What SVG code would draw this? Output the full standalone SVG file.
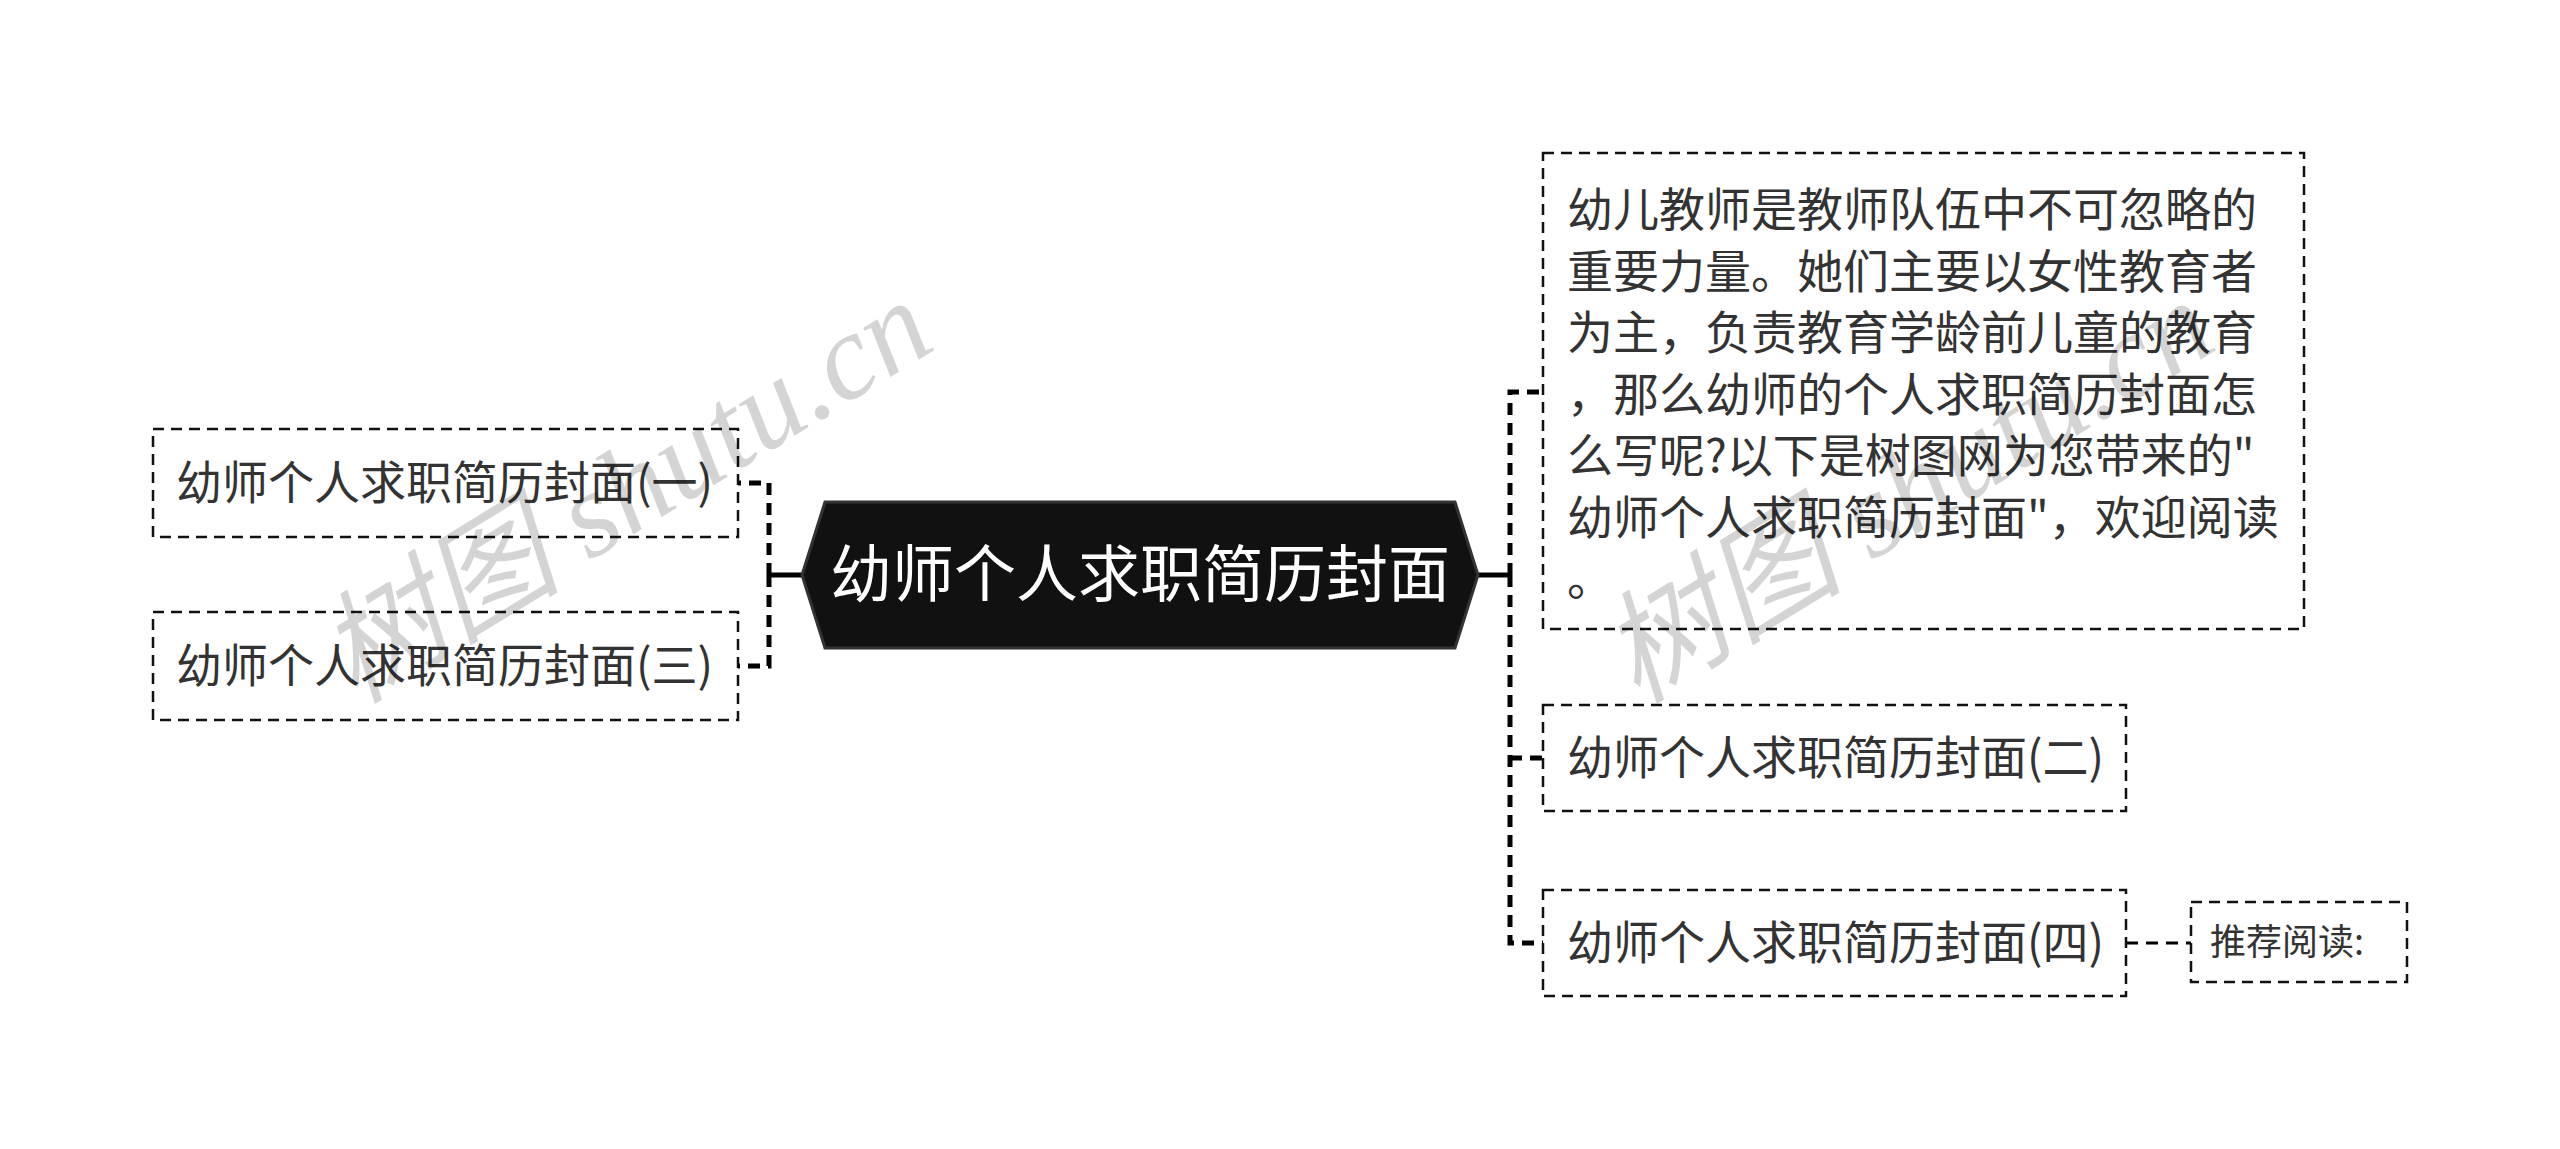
<svg xmlns="http://www.w3.org/2000/svg" width="2560" height="1149" viewBox="0 0 2560 1149">
<style>
.box{fill:#fff;stroke:#111;stroke-width:2.5;stroke-dasharray:11 7}
.t{font-family:"Noto Sans CJK SC","Noto Sans",sans-serif;fill:#333;font-size:46px}
.c{fill:none;stroke:#000;stroke-width:5;stroke-dasharray:12 8}
.s{fill:none;stroke:#000;stroke-width:5}
.wm{font-family:"Liberation Serif","Noto Sans CJK SC",serif;font-style:italic;fill:#000;fill-opacity:0.17;font-size:122px}
</style>
<rect width="2560" height="1149" fill="#fff"/>
<g id="connectors">
<path class="s" d="M802 575H769"/>
<path class="c" d="M769 575V483H738"/>
<path class="c" d="M769 575V666H738"/>
<path class="s" d="M1478 575H1510"/>
<path class="c" d="M1510 575V392H1543"/>
<path class="c" d="M1510 575V943H1543"/>
<path class="c" d="M1510 758H1543"/>
<path fill="none" stroke="#000" stroke-width="3" stroke-dasharray="12 8" d="M2126 943H2191"/>
</g>
<g id="root">
<polygon points="802,575 825,502 1455,502 1478,575 1455,648 825,648" fill="#111" stroke="#333" stroke-width="3"/>
<text x="1140" y="597" text-anchor="middle" font-family="Noto Sans CJK SC,sans-serif" font-size="62" fill="#fff">幼师个人求职简历封面</text>
</g>
<g id="n1">
<rect class="box" x="153" y="429" width="585" height="108"/>
<text class="t" x="176" y="499">幼师个人求职简历封面(一)</text>
</g>
<g id="n3">
<rect class="box" x="153" y="612" width="585" height="108"/>
<text class="t" x="176" y="682">幼师个人求职简历封面(三)</text>
</g>
<g id="desc">
<rect class="box" x="1543" y="153" width="761" height="476"/>
<text class="t"><tspan x="1567" y="226">幼儿教师是教师队伍中不可忽略的</tspan><tspan x="1567" y="287.5">重要力量。她们主要以女性教育者</tspan><tspan x="1567" y="349">为主，负责教育学龄前儿童的教育</tspan><tspan x="1567" y="410.5">，那么幼师的个人求职简历封面怎</tspan><tspan x="1567" y="472">么写呢?以下是树图网为您带来的"</tspan><tspan x="1567" y="533.5">幼师个人求职简历封面"，欢迎阅读</tspan><tspan x="1567" y="595">。</tspan></text>
</g>
<g id="n2">
<rect class="box" x="1543" y="705" width="583" height="106"/>
<text class="t" x="1567" y="774">幼师个人求职简历封面(二)</text>
</g>
<g id="n4">
<rect class="box" x="1543" y="890" width="583" height="106"/>
<text class="t" x="1567" y="959">幼师个人求职简历封面(四)</text>
</g>
<g id="rec">
<rect class="box" x="2191" y="902" width="216" height="80"/>
<text class="t" x="2210" y="955" style="font-size:36px">推荐阅读:</text>
</g>
<g id="watermark">
<text class="wm" transform="translate(355,705) rotate(-31.5)">树图 shutu.cn</text>
<text class="wm" transform="translate(1637,705) rotate(-31.5)">树图 shutu.cn</text>
</g>
</svg>
